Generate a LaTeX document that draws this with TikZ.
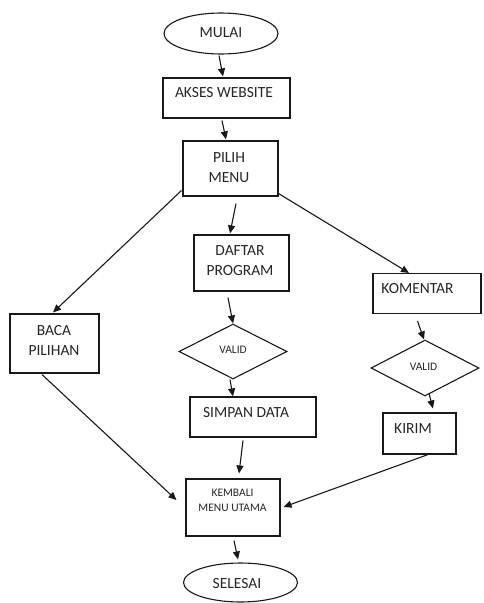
\documentclass[tikz,border=0pt]{standalone}
\usepackage{fontspec}
\setmainfont{Carlito}
\usetikzlibrary{shapes.geometric,arrows.meta,calc}
\tikzset{
  line/.style={draw=black!90, line width=1.1pt},
  boxnode/.style={line, rectangle, inner sep=0pt},
  ovalnode/.style={line, ellipse, inner sep=0pt},
  dianode/.style={line, diamond, inner sep=0pt},
  bigtxt/.style={font=\fontsize{15.5}{20}\selectfont, inner sep=0pt, align=center, text=black!85},
  smalltxt/.style={font=\fontsize{11.5}{15}\selectfont, inner sep=0pt, align=center, text=black!85},
  arr/.style={draw=black!90, line width=1.1pt, -{Triangle[length=8pt,width=7pt]}, shorten >=0pt},
}
\begin{document}
\begin{tikzpicture}[x=1pt,y=-1pt]
\useasboundingbox (0,0) rectangle (483,603);
% shapes
\node[ovalnode, minimum width=114pt, minimum height=41pt] (mulai) at (221,33.5) {};
\node[boxnode, minimum width=127pt, minimum height=40pt] (akses) at (226.5,98) {};
\node[boxnode, minimum width=95pt, minimum height=55pt] (pilih) at (230.5,168.5) {};
\node[boxnode, minimum width=95pt, minimum height=56pt] (daftar) at (241.5,263) {};
\node[boxnode, minimum width=108pt, minimum height=40pt] (komentar) at (427,293.5) {};
\node[boxnode, minimum width=89pt, minimum height=59pt] (baca) at (54.5,343.5) {};
\node[dianode, minimum width=108pt, minimum height=55pt] (valid1) at (233,351.5) {};
\node[dianode, minimum width=108pt, minimum height=56pt] (valid2) at (425,368) {};
\node[boxnode, minimum width=126pt, minimum height=40pt] (simpan) at (253,417) {};
\node[boxnode, minimum width=73pt, minimum height=41pt] (kirim) at (419.5,433.5) {};
\node[boxnode, minimum width=94pt, minimum height=57pt] (kembali) at (233,507.5) {};
\node[ovalnode, minimum width=114pt, minimum height=39pt] (selesai) at (240.5,582.5) {};
% texts
\node[bigtxt] (tmulai) at (221,33) {MULAI};
\node[bigtxt] (takses) at (224,93) {AKSES WEBSITE};
\node[bigtxt] (tpilih) at (229,167.5) {PILIH\\MENU};
\node[bigtxt] (tdaftar) at (240,261) {DAFTAR\\PROGRAM};
\node[bigtxt] (tkomentar) at (417.5,289) {KOMENTAR};
\node[bigtxt] (tbaca) at (54,340.5) {BACA\\PILIHAN};
\node[smalltxt] (tvalid1) at (233,350) {VALID};
\node[smalltxt] (tvalid2) at (423.5,367) {VALID};
\node[bigtxt] (tsimpan) at (246,413) {SIMPAN DATA};
\node[bigtxt] (tkirim) at (413,429) {KIRIM};
\node[smalltxt] (tkembali) at (232.5,500.5) {KEMBALI\\MENU UTAMA};
\node[bigtxt] (tselesai) at (237,584) {SELESAI};
% connectors
\draw[arr] ($(mulai.south)+(-2,1)$) -- ($(akses.north)+(-3.5,-1)$);
\draw[arr] ($(akses.south)+(-4.5,2)$) -- ($(pilih.north)+(-4.5,-1)$);
\draw[arr] ($(pilih.south west)+(-1,-6)$) -- ($(baca.north)+(-1.5,-1)$);
\draw[arr] ($(pilih.south)+(5.5,7)$) -- ($(daftar.north)+(-11.5,-1)$);
\draw[arr] ($(pilih.south east)+(0,-3)$) -- ($(komentar.north)+(-18,0)$);
\draw[arr] ($(daftar.south)+(-13.5,6)$) -- ($(valid1.north)+(0,0)$);
\draw[arr] ($(valid1.south)+(-3,0)$) -- ($(simpan.north)+(-20,0)$);
\draw[arr] ($(komentar.south)+(-9.5,7)$) -- ($(valid2.north)+(-1,0)$);
\draw[arr] ($(valid2.south)+(4,-3)$) -- ($(kirim.north)+(13.5,-4)$);
\draw[arr] ($(baca.south)+(-12.5,1)$) -- ($(kembali.west)+(-9,-7.5)$);
\draw[arr] ($(simpan.south)+(-10,3)$) -- ($(kembali.north)+(6,-5)$);
\draw[arr] ($(kirim.south)+(8.5,0)$) -- ($(kembali.east)+(3,-0.5)$);
\draw[arr] ($(kembali.south)+(1,4)$) -- ($(selesai.north)+(-2.5,-3)$);
\end{tikzpicture}
\end{document}
